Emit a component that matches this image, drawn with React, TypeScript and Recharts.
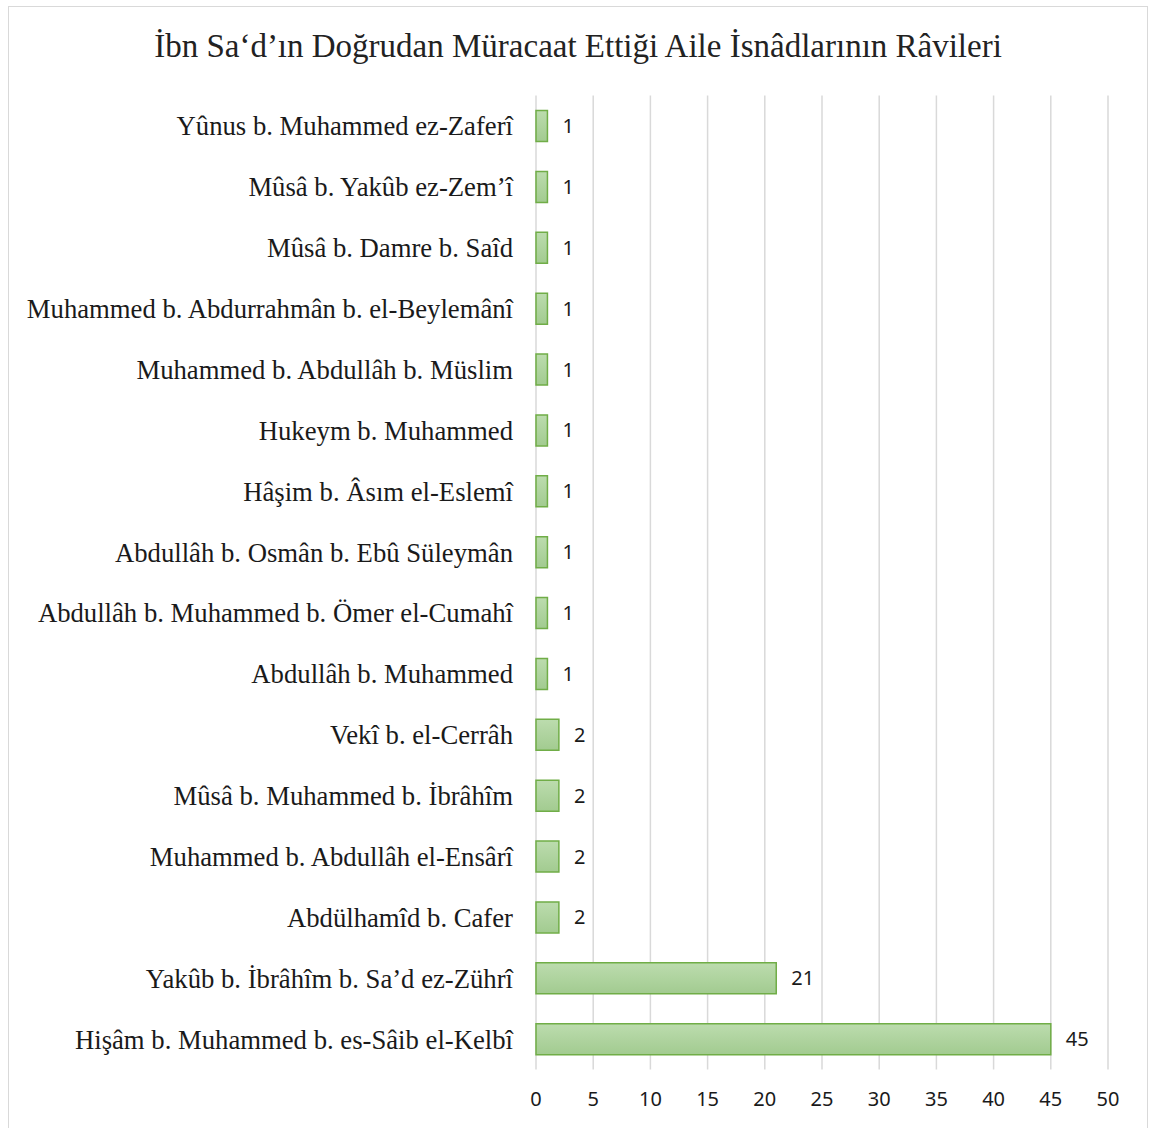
import React from "react";
import { BarChart, Bar, XAxis, YAxis, CartesianGrid, LabelList } from "recharts";

const narrators = [
  "Yûnus b. Muhammed ez-Zaferî",
  "Mûsâ b. Yakûb ez-Zem’î",
  "Mûsâ b. Damre b. Saîd",
  "Muhammed b. Abdurrahmân b. el-Beylemânî",
  "Muhammed b. Abdullâh b. Müslim",
  "Hukeym b. Muhammed",
  "Hâşim b. Âsım el-Eslemî",
  "Abdullâh b. Osmân b. Ebû Süleymân",
  "Abdullâh b. Muhammed b. Ömer el-Cumahî",
  "Abdullâh b. Muhammed",
  "Vekî b. el-Cerrâh",
  "Mûsâ b. Muhammed b. İbrâhîm",
  "Muhammed b. Abdullâh el-Ensârî",
  "Abdülhamîd b. Cafer",
  "Yakûb b. İbrâhîm b. Sa’d ez-Zührî",
  "Hişâm b. Muhammed b. es-Sâib el-Kelbî",
];
const counts = [1, 1, 1, 1, 1, 1, 1, 1, 1, 1, 2, 2, 2, 2, 21, 45];
const xTicks = [0, 5, 10, 15, 20, 25, 30, 35, 40, 45, 50];
const title = "İbn Sa‘d’ın Doğrudan Müracaat Ettiği Aile İsnâdlarının Râvileri";

const data = narrators.map((name, i) => ({ name, value: counts[i] }));

const SERIF = "'Liberation Serif', 'Times New Roman', serif";
const SANS = "'Noto Sans', 'Open Sans', sans-serif";

export default function App() {
  return (
    <div
      style={{
        position: "absolute",
        left: 8,
        top: 6,
        width: 1140,
        height: 1130,
        border: "1.5px solid #d9d9d9",
        boxSizing: "border-box",
        background: "#fff",
      }}
    >
      <div
        style={{
          position: "absolute",
          left: 0,
          top: 19,
          width: "100%",
          textAlign: "center",
          fontFamily: SERIF,
          fontSize: 33,
          lineHeight: "40px",
          color: "#222",
        }}
      >
        {title}
      </div>
      <div style={{ position: "absolute", left: 0, top: 0 }}>
        <BarChart
          width={1138}
          height={1122}
          data={data}
          layout="vertical"
          margin={{ top: 88.5, right: 39, bottom: 19.5, left: 0 }}
          barCategoryGap={0}
        >
          <defs>
            <linearGradient id="barGrad" x1="0" y1="0" x2="0" y2="1">
              <stop offset="0%" stopColor="#bcdcae" />
              <stop offset="100%" stopColor="#a2cb90" />
            </linearGradient>
          </defs>
          <CartesianGrid horizontal={false} stroke="#d9d9d9" strokeWidth={1.5} />
          <XAxis
            type="number"
            domain={[0, 50]}
            ticks={xTicks}
            interval={0}
            axisLine={false}
            tickLine={false}
            height={40}
            tickMargin={16}
            tick={{ fontFamily: SANS, fontSize: 20, fill: "#1a1a1a" }}
          />
          <YAxis
            type="category"
            dataKey="name"
            width={527}
            axisLine={false}
            tickLine={false}
            interval={0}
            tickMargin={17}
            tick={{ fontFamily: SERIF, fontSize: 26.7, fill: "#1a1a1a" }}
          />
          <Bar
            dataKey="value"
            barSize={31}
            fill="url(#barGrad)"
            stroke="#70ad47"
            strokeWidth={1.5}
            isAnimationActive={false}
          >
            <LabelList
              dataKey="value"
              position="right"
              offset={15}
              style={{ fontFamily: SANS, fontSize: 20, fill: "#1a1a1a" }}
            />
          </Bar>
        </BarChart>
      </div>
    </div>
  );
}
